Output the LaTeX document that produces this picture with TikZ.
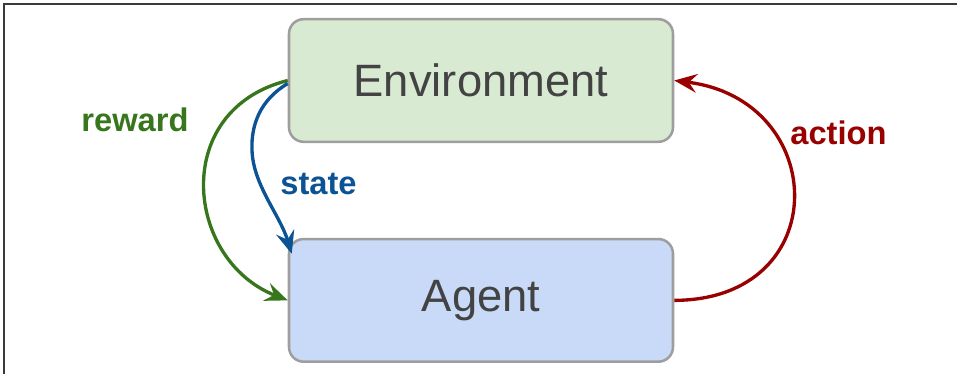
\documentclass[tikz,border=0pt]{standalone}
\usepackage{fontspec}
\setmainfont{Liberation Sans}
\usetikzlibrary{positioning, calc, arrows.meta}
\definecolor{envfill}{HTML}{D9EAD3}
\definecolor{agentfill}{HTML}{C9DAF8}
\definecolor{boxgray}{HTML}{9E9E9E}
\definecolor{textgray}{HTML}{434343}
\definecolor{framegray}{HTML}{3A3A3A}
\definecolor{rewardgreen}{HTML}{38761D}
\definecolor{stateblue}{HTML}{0B5394}
\definecolor{actionred}{HTML}{990000}

\begin{document}
\begin{tikzpicture}[
        x=0.75pt, y=-0.75pt,
        node distance=71pt,
        box/.style={draw=boxgray, line width=1.9pt, rounded corners=11pt,
            minimum width=288pt, minimum height=92pt, text=textgray,
            font=\fontsize{34}{40}\selectfont},
        flow/.style={line width=2.5pt, -{Stealth[length=17pt, width=14pt, inset=6pt]}},
        flowlabel/.style={font=\fontsize{24.5}{28}\selectfont\bfseries, anchor=base},
    ]

    \useasboundingbox (0,0) rectangle (957,374);
    \draw[framegray, line width=0.9pt] (4,374) -- (4,4) -- (957,4);

    \node[box, fill=envfill] (env) at (481,80.5) {Environment};
    \node[box, fill=agentfill, below=of env] (agent) {Agent};

    \node[flowlabel, rewardgreen] (rewardlab) at (135,132) {reward};
    \node[flowlabel, stateblue] (statelab) at (318.5,195) {state};
    \node[flowlabel, actionred] (actionlab) at (838.5,145) {action};

    \draw[flow, rewardgreen] (env.west)
        .. controls (170,110) and (185,260) .. (agent.west);

    \draw[flow, stateblue] ($(env.west)+(0,3)$)
        .. controls (260,100) and (251,125) .. (252,150)
        .. controls (253,185) and (280,215) .. ($(agent.north west)+(4,16)$);

    \draw[flow, actionred] (agent.east)
        .. controls (835,300) and (830,100) .. (env.east);

    \end{tikzpicture}
\end{document}
